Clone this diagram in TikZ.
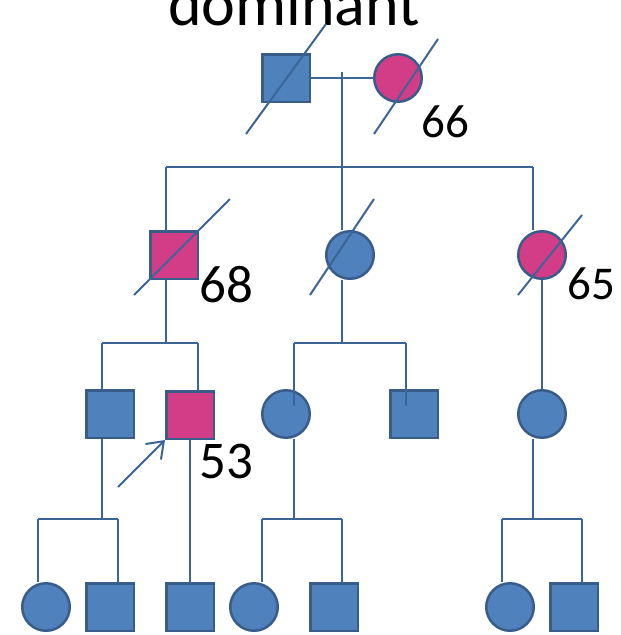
\documentclass[tikz,border=0pt]{standalone}
\usepackage{fontspec}
\setmainfont{Carlito}
\usepackage{tikz}
\usetikzlibrary{arrows.meta, positioning, calc}
\usepackage{xcolor}

\definecolor{fillblue}{HTML}{4F81BD}
\definecolor{fillpink}{HTML}{D33D88}
\definecolor{edgeblue}{HTML}{385D8A}
\definecolor{lineblue}{HTML}{3B6597}

\begin{document}
\begin{tikzpicture}[x=1pt, y=-1pt,
    male/.style={rectangle, draw=edgeblue, line width=2.5pt, fill=fillblue,
                 minimum size=47.5pt, inner sep=0pt},
    female/.style={circle, draw=edgeblue, line width=2.5pt, fill=fillblue,
                   minimum size=47.5pt, inner sep=0pt},
    affected/.style={fill=fillpink},
    rel/.style={draw=lineblue, line width=2pt},
    slash/.style={draw=lineblue, line width=2pt},
    agelbl/.style={font=\fontsize{47}{47}\selectfont, anchor=base},
    agebig/.style={font=\fontsize{53}{53}\selectfont, anchor=base}]
    \useasboundingbox (0,0) rectangle (621,635);

    % Title
    \node[font=\fontsize{64}{64}\selectfont, anchor=base] (title) at (294,25) {dominant};

    % Generation I
    \node[male] (I1) at (286,78) {};
    \node[female, affected] (I2) at (398,78) {};
    \draw[rel] (I1.east) -- (I2.west);
    \draw[slash] ([shift={(-40,56)}]I1.center) -- ([shift={(40,-54)}]I1.center);
    \draw[slash] ([shift={(-24,56)}]I2.center) -- ([shift={(40,-39)}]I2.center);
    \node[agelbl] (age66) at (445,137) {66};

    % Generation II
    \node[male, affected] (II1) at (174,255) {};
    \node[female] (II2) at (350,255) {};
    \node[female, affected] (II3) at (542,255) {};
    \coordinate (d1) at (342,72);
    \coordinate (b1l) at (166,167);
    \coordinate (b1r) at (533,167);
    \draw[rel] (b1l) -- (b1r);
    \draw[rel] (d1) -- (d1 |- II2.north);
    \draw[rel] (b1l) -- (b1l |- II1.north);
    \draw[rel] (b1r) -- (b1r |- II3.north);
    \draw[slash] ([shift={(-40,40)}]II1.center) -- ([shift={(56,-56)}]II1.center);
    \draw[slash] ([shift={(-40,40)}]II2.center) -- ([shift={(24,-56)}]II2.center);
    \draw[slash] ([shift={(-24,40)}]II3.center) -- ([shift={(40,-40)}]II3.center);
    \node[agebig] (age68) at (226,302) {68};
    \node[agelbl] (age65) at (591,299) {65};

    % Generation III
    \node[male] (III1) at (110,414) {};
    \node[male, affected] (III2) at (190,415) {};
    \node[female] (III3) at (286,414) {};
    \node[male] (III4) at (414,414) {};
    \node[female] (III5) at (542,414) {};
    % left sibship
    \coordinate (b2l) at (102,343);
    \coordinate (b2r) at (198,343);
    \draw[rel] (II1.south -| b1l) -- (b1l |- b2l);
    \draw[rel] (b2l) -- (b2r);
    \draw[rel] (b2l) -- (b2l |- III1.north);
    \draw[rel] (b2r) -- (b2r |- III2.north);
    % middle sibship
    \coordinate (b3l) at (294,343);
    \coordinate (b3r) at (406,343);
    \draw[rel] (d1 |- II2.south) -- (d1 |- b3l);
    \draw[rel] (b3l) -- (b3r);
    \draw[rel] (b3l) -- (294,406);
    \draw[rel] (b3r) -- (406,406);
    % right line
    \draw[rel] (II3.south) -- (III5.north);
    \node[agebig] (age53) at (226,478) {53};
    \coordinate (pb) at (118,487);
    \draw[rel, -{Straight Barb[length=15pt, width=22pt]}] (pb) -- (III2.south west);

    % Generation IV
    \node[female] (IV1) at (46,607) {};
    \node[male] (IV2) at (110,607) {};
    \node[male] (IV3) at (190,607) {};
    \node[female] (IV4) at (254,607) {};
    \node[male] (IV5) at (334,607) {};
    \node[female] (IV6) at (510,607) {};
    \node[male] (IV7) at (574,607) {};
    % left sibship
    \coordinate (b4l) at (38,519);
    \coordinate (b4r) at (118,519);
    \draw[rel] (III1.south -| b2l) -- (b2l |- b4l);
    \draw[rel] (b4l) -- (b4r);
    \draw[rel] (b4l) -- (b4l |- IV1.north);
    \draw[rel] (b4r) -- (b4r |- IV2.north);
    \draw[rel] (III2.south) -- (IV3.north);
    % middle sibship
    \coordinate (b5l) at (262,519);
    \coordinate (b5r) at (342,519);
    \draw[rel] (III3.south -| b3l) -- (b3l |- b5l);
    \draw[rel] (b5l) -- (b5r);
    \draw[rel] (b5l) -- (b5l |- IV4.north);
    \draw[rel] (b5r) -- (b5r |- IV5.north);
    % right sibship
    \coordinate (b6l) at (502,519);
    \coordinate (b6r) at (582,519);
    \draw[rel] (III5.south -| b1r) -- (b1r |- b6l);
    \draw[rel] (b6l) -- (b6r);
    \draw[rel] (b6l) -- (b6l |- IV6.north);
    \draw[rel] (b6r) -- (b6r |- IV7.north);
\end{tikzpicture}
\end{document}
